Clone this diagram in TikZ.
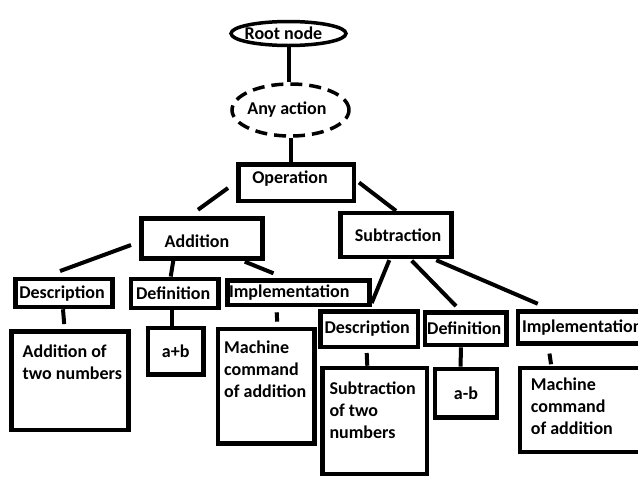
\documentclass[tikz,border=0pt]{standalone}
\usepackage{fontspec}
\setmainfont{Carlito}
\usetikzlibrary{shapes.geometric,calc}
\newcommand\txtshift[3]{\raisebox{#2}[\height][\depth]{\kern#1\relax#3\kern-#1\relax}}
\tikzset{
  every node/.style={font=\fontsize{18}{22}\selectfont\bfseries},
  box/.style={draw, line width=4.5pt, rectangle, inner sep=0pt},
  oval/.style={draw, line width=3.5pt, ellipse, inner sep=0pt},
  dashedoval/.style={oval, dash pattern=on 12pt off 7pt},
  link/.style={line width=4pt},
  txt/.style={align=left, inner sep=0pt, anchor=north west},
}
\begin{document}
\begin{tikzpicture}[x=1pt,y=-1pt]
\useasboundingbox (0,0) rectangle (638,477);
\fill[white] (0,0) rectangle (638,477);
\clip (0,0) rectangle (638,477);

% top
\node[oval, minimum width=115, minimum height=24] (root) at (288.5,33.5) {\txtshift{-5pt}{0pt}{Root node}};
\node[dashedoval, minimum width=117, minimum height=52] (any) at (290.5,110) {\txtshift{-3.5pt}{0pt}{Any action}};
\node[box, minimum width=115.5, minimum height=36.5] (op) at (296,182.5) {\txtshift{-6pt}{4pt}{Operation}};
\node[box, minimum width=121, minimum height=40] (add) at (202,238.4) {\txtshift{-5pt}{-2.5pt}{Addition}};
\node[box, minimum width=111, minimum height=43.8] (sub) at (396,235) {\txtshift{2pt}{-0.5pt}{Subtraction}};

% addition branch
\node[box, minimum width=97, minimum height=28] (descL) at (64,293) {\txtshift{-2pt}{-0.5pt}{Description}};
\node[box, minimum width=87.5, minimum height=29] (defL) at (174.7,293.3) {\txtshift{-1.5pt}{0pt}{Definition}};
\node[box, minimum height=24.5, text width=139, inner xsep=1.5, align=left] (implL) at (298.5,292.8) {Implementation};
\node[box, minimum width=117, minimum height=98.8] (bigL) at (70.2,380.7) {};
\node[txt] (bigLtext) at (22.5,345) {Addition of\\two numbers};
\node[box, minimum width=55.5, minimum height=46.5] (ab) at (175.7,351.2) {a+b};
\node[box, minimum width=96.5, minimum height=114.8] (machL) at (266.2,386.3) {};
\node[txt] (machLtext) at (224,340.5) {Machine\\command\\of addition};

% subtraction branch
\node[box, minimum width=97.2, minimum height=35.5] (descR) at (369.2,329) {\txtshift{-2pt}{0pt}{Description}};
\node[box, minimum width=81.8, minimum height=32.8] (defR) at (465.8,328.7) {\txtshift{-1.5pt}{0pt}{Definition}};
\node[box, minimum height=32, text width=154, inner xsep=4, align=left] (implR) at (599,327.3) {Implementation};
\node[box, minimum width=104.8, minimum height=106] (subchild) at (374.7,421) {};
\node[txt] (subchildtext) at (329.3,381.5) {Subtraction\\of two\\numbers};
\node[box, minimum width=62, minimum height=48.8] (amb) at (466,393.3) {a-b};
\node[box, minimum width=160, minimum height=84] (machR) at (600,410) {};
\node[txt] (machRtext) at (530.7,377.5) {Machine\\command\\of addition};

% connectors
\draw[link] (root.south) -- (root.south |- any.north);
\draw[link] (any.south) -- (any.south |- op.north);
\draw[link] ($(op.west)+(-8,5.5)$) -- ($(add.north)+(-4,-6.4)$);
\draw[link] ($(op.east)+(3,0)$) -- (sub.north);
\draw[link] ($(add.west)+(-8.2,6.6)$) -- ($(descL.north)+(-4,-5.7)$);
\draw[link] ($(add.south)+(-28.7,0)$) -- ($(defL.north)+(-4,0)$);
\draw[link] ($(add.south east)+(-20,1)$) -- ($(implL.north)+(-25,-5)$);
\draw[link] ($(sub.south)+(-6.7,1)$) -- ($(descR.north)+(2.5,-6)$);
\draw[link] ($(sub.south)+(15.7,1.5)$) -- ($(defR.north)+(-9.8,-4)$);
\draw[link] ($(sub.south east)+(-17.5,1)$) -- ($(implR.north west)+(22,-5.3)$);
\draw[link] ($(descL.south)+(-1,0)$) -- ($(bigL.north)+(-6,-5)$);
\draw[link] ($(defL.south)+(-3,0)$) -- ($(ab.north)+(-4,0)$);
\draw[link] ($(implL.south)+(-21.8,5)$) -- ($(machL.north)+(11,-5)$);
\draw[link] ($(descR.south)+(-2.5,4)$) -- ($(subchild.north)+(-7.4,0)$);
\draw[link] ($(defR.south)+(-5,0)$) -- ($(amb.north)+(-5.3,0)$);
\draw[link] ($(implR.south west)+(33.7,8)$) -- ($(machR.north west)+(33.3,-1.5)$);
\end{tikzpicture}
\end{document}
